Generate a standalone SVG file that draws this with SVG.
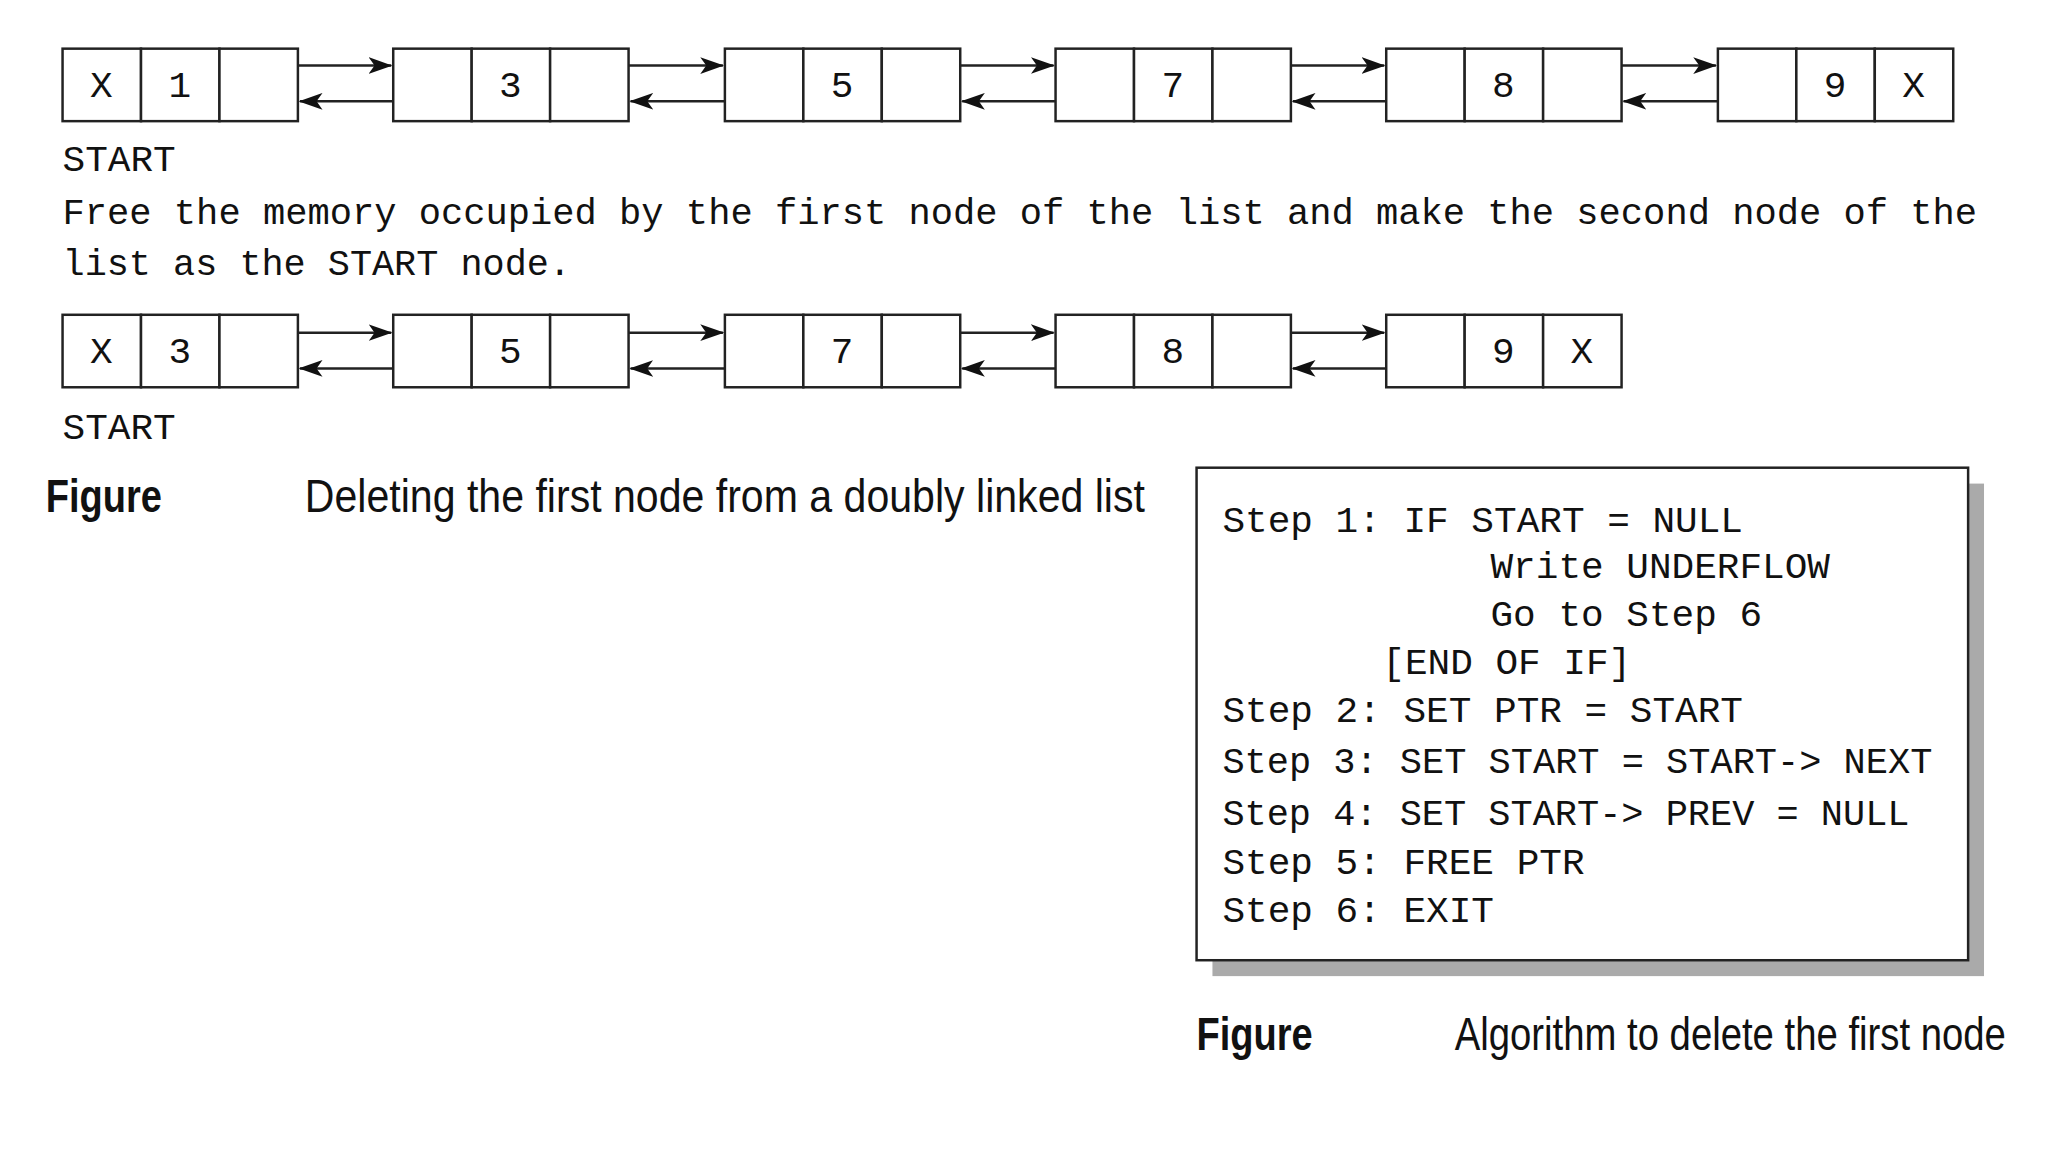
<svg xmlns="http://www.w3.org/2000/svg" width="2048" height="1152" viewBox="0 0 2048 1152">
<defs>
<marker id="ah" viewBox="0 0 20 14" refX="19" refY="7" markerWidth="24" markerHeight="17" markerUnits="userSpaceOnUse" orient="auto"><path d="M0,0 L20,7 L0,14 L5,7 Z" fill="#111"/></marker>
</defs>
<style>
.c{fill:#fff;stroke:#222;stroke-width:2.5}
.m{font-family:"Liberation Mono","DejaVu Sans Mono",monospace;font-size:38px;fill:#111}
.v{text-anchor:middle}
.l{stroke:#222;stroke-width:2.5;fill:none;marker-end:url(#ah)}
.cap{font-family:"Liberation Sans",Arial,sans-serif;font-size:46px;fill:#111}
</style>
<rect width="2048" height="1152" fill="#fff"/>
<g transform="scale(0.993)">
<g id="row1">
<g id="n1"><rect class="c" x="63" y="49" width="79" height="73"/><rect class="c" x="142" y="49" width="79" height="73"/><rect class="c" x="221" y="49" width="79" height="73"/><text class="m v" x="102" y="98">X</text><text class="m v" x="181" y="98">1</text></g>
<g id="n3"><rect class="c" x="396" y="49" width="79" height="73"/><rect class="c" x="475" y="49" width="79" height="73"/><rect class="c" x="554" y="49" width="79" height="73"/><text class="m v" x="514" y="98">3</text></g>
<g id="n5"><rect class="c" x="730" y="49" width="79" height="73"/><rect class="c" x="809" y="49" width="79" height="73"/><rect class="c" x="888" y="49" width="79" height="73"/><text class="m v" x="848" y="98">5</text></g>
<g id="n7"><rect class="c" x="1063" y="49" width="79" height="73"/><rect class="c" x="1142" y="49" width="79" height="73"/><rect class="c" x="1221" y="49" width="79" height="73"/><text class="m v" x="1181" y="98">7</text></g>
<g id="n8"><rect class="c" x="1396" y="49" width="79" height="73"/><rect class="c" x="1475" y="49" width="79" height="73"/><rect class="c" x="1554" y="49" width="79" height="73"/><text class="m v" x="1514" y="98">8</text></g>
<g id="n9"><rect class="c" x="1730" y="49" width="79" height="73"/><rect class="c" x="1809" y="49" width="79" height="73"/><rect class="c" x="1888" y="49" width="79" height="73"/><text class="m v" x="1848" y="98">9</text><text class="m v" x="1927" y="98">X</text></g>
</g>
<g id="row2">
<g id="m3"><rect class="c" x="63" y="317" width="79" height="73"/><rect class="c" x="142" y="317" width="79" height="73"/><rect class="c" x="221" y="317" width="79" height="73"/><text class="m v" x="102" y="366">X</text><text class="m v" x="181" y="366">3</text></g>
<g id="m5"><rect class="c" x="396" y="317" width="79" height="73"/><rect class="c" x="475" y="317" width="79" height="73"/><rect class="c" x="554" y="317" width="79" height="73"/><text class="m v" x="514" y="366">5</text></g>
<g id="m7"><rect class="c" x="730" y="317" width="79" height="73"/><rect class="c" x="809" y="317" width="79" height="73"/><rect class="c" x="888" y="317" width="79" height="73"/><text class="m v" x="848" y="366">7</text></g>
<g id="m8"><rect class="c" x="1063" y="317" width="79" height="73"/><rect class="c" x="1142" y="317" width="79" height="73"/><rect class="c" x="1221" y="317" width="79" height="73"/><text class="m v" x="1181" y="366">8</text></g>
<g id="m9"><rect class="c" x="1396" y="317" width="79" height="73"/><rect class="c" x="1475" y="317" width="79" height="73"/><rect class="c" x="1554" y="317" width="79" height="73"/><text class="m v" x="1514" y="366">9</text><text class="m v" x="1593" y="366">X</text></g>
</g>
<g id="connectors">
<path class="l" d="M300,66 H394"/><path class="l" d="M396,102 H302"/>
<path class="l" d="M633,66 H728"/><path class="l" d="M730,102 H635"/>
<path class="l" d="M967,66 H1061"/><path class="l" d="M1063,102 H969"/>
<path class="l" d="M1300,66 H1394"/><path class="l" d="M1396,102 H1302"/>
<path class="l" d="M1633,66 H1728"/><path class="l" d="M1730,102 H1635"/>
<path class="l" d="M300,335 H394"/><path class="l" d="M396,371 H302"/>
<path class="l" d="M633,335 H728"/><path class="l" d="M730,371 H635"/>
<path class="l" d="M967,335 H1061"/><path class="l" d="M1063,371 H969"/>
<path class="l" d="M1300,335 H1394"/><path class="l" d="M1396,371 H1302"/>
</g>
<g id="texts">
<text class="m" x="63" y="172">START</text>
<text class="m" x="63" y="226" textLength="1928" lengthAdjust="spacingAndGlyphs">Free the memory occupied by the first node of the list and make the second node of the</text>
<text class="m" x="63" y="277" textLength="512" lengthAdjust="spacingAndGlyphs">list as the START node.</text>
<text class="m" x="63" y="442">START</text>
<text class="cap" x="46" y="516" font-weight="bold" textLength="117" lengthAdjust="spacingAndGlyphs">Figure</text>
<text class="cap" x="307" y="516" textLength="846" lengthAdjust="spacingAndGlyphs">Deleting the first node from a doubly linked list</text>
</g>
<g id="algo">
<rect x="1221" y="487" width="777" height="496" fill="#aaa"/>
<rect x="1205" y="471" width="777" height="496" fill="#fff" stroke="#222" stroke-width="2.5"/>
<text class="m" x="1231" y="536">Step 1: IF START = NULL</text>
<text class="m" x="1501" y="582">Write UNDERFLOW</text>
<text class="m" x="1501" y="630">Go to Step 6</text>
<text class="m" x="1392" y="679">[END OF IF]</text>
<text class="m" x="1231" y="727">Step 2: SET PTR = START</text>
<text class="m" x="1231" y="778" textLength="715" lengthAdjust="spacingAndGlyphs">Step 3: SET START = START-&gt; NEXT</text>
<text class="m" x="1231" y="831" textLength="692" lengthAdjust="spacingAndGlyphs">Step 4: SET START-&gt; PREV = NULL</text>
<text class="m" x="1231" y="880">Step 5: FREE PTR</text>
<text class="m" x="1231" y="928">Step 6: EXIT</text>
</g>
<g id="caption2">
<text class="cap" x="1205" y="1057" font-weight="bold" textLength="117" lengthAdjust="spacingAndGlyphs">Figure</text>
<text class="cap" x="1465" y="1057" textLength="555" lengthAdjust="spacingAndGlyphs">Algorithm to delete the first node</text>
</g>
</g>
</svg>
